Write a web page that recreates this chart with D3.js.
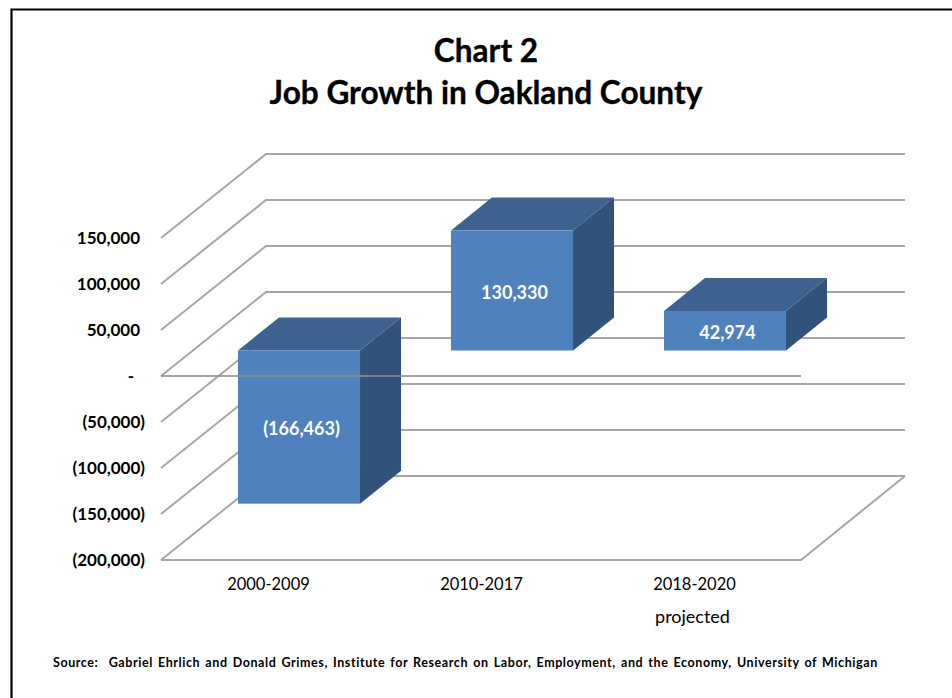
<!DOCTYPE html>
<html>
<head>
<meta charset="utf-8">
<script src="https://cdn.jsdelivr.net/npm/d3@7/dist/d3.min.js"></script>
<style>
  html, body { margin: 0; padding: 0; background: #fff; }
  svg { display: block; }
  text { font-family: Lato, "Open Sans", sans-serif; }
</style>
</head>
<body>
<svg id="chart" width="952" height="698"></svg>
<script>
// Job change by period, in jobs
const periods = ["2000-2009", "2010-2017", "2018-2020"];
const periodNotes = ["", "", "projected"];
const jobChange = [-166463, 130330, 42974];
const barLabels = ["(166,463)", "130,330", "42,974"];
const axisTicks = [-200000, -150000, -100000, -50000, 0, 50000, 100000, 150000];
const titleLines = ["Chart 2", "Job Growth in Oakland County"];
const sourceNote = "Source:  Gabriel Ehrlich and Donald Grimes, Institute for Research on Labor, Employment, and the Economy, University of Michigan";

const svg = d3.select("#chart");

// Front plane of the oblique box and the depth offset of its back wall
const y = d3.scaleLinear().domain([-200000, 150000]).range([560, 238]);
const plane = { left: 161, right: 801 };
const x = d3.scaleBand().domain(periods).range([160.5, 799.5]).paddingInner(0.427).paddingOuter(0.2135);
const depth = { dx: 105, dy: -84 };
const barDepth = { dx: 41, dy: -33 };
const barInset = {
  dx: (depth.dx - barDepth.dx) / 2,
  dy: (depth.dy - barDepth.dy) / 2
};

const formatTick = v => v === 0 ? "-" : v < 0 ? `(${d3.format(",")(-v)})` : d3.format(",")(v);
const gridColor = "#a6a6a6";

// Frame around the chart: open on the right, runs off the page at the bottom
svg.append("path")
  .attr("d", "M11.5 698 V9.5 H952")
  .attr("fill", "none")
  .attr("stroke", "#000")
  .attr("stroke-width", 2.2);

// Title
svg.append("g").selectAll("text").data(titleLines).join("text")
  .attr("x", 486)
  .attr("y", (d, i) => 62 + i * 42)
  .attr("text-anchor", "middle")
  .attr("font-size", 31.6)
  .attr("font-weight", 700)
  .attr("fill", "#000")
  .attr("stroke", "#000")
  .attr("stroke-width", 0.35)
  .text(d => d);

// Side wall and back wall gridlines
const grid = svg.append("g")
  .attr("fill", "none")
  .attr("stroke", gridColor)
  .attr("stroke-width", 2);
grid.selectAll("path").data(axisTicks).join("path")
  .attr("d", v => {
    const y0 = y(v);
    return `M${plane.left} ${y0} L${plane.left + depth.dx} ${y0 + depth.dy} H${plane.right + depth.dx - 1}`;
  });

// Floor: front edge and right edge
const floorY = y(-200000);
grid.append("path")
  .attr("d", `M${plane.left} ${floorY} H${plane.right} L${plane.right + depth.dx - 1} ${floorY + depth.dy}`);

// Oblique bars: back faces first so the front face sits on top
const zeroY = y(0) + barInset.dy;
const bars = svg.append("g").selectAll("g").data(periods).join("g");
bars.each(function (p, i) {
  const g = d3.select(this);
  const left = x(p) + barInset.dx;
  const right = left + x.bandwidth();
  const valueY = y(jobChange[i]) + barInset.dy;
  const top = Math.min(valueY, zeroY);
  const bottom = Math.max(valueY, zeroY);
  const { dx, dy } = barDepth;
  g.append("polygon")
    .attr("points", [[left, top], [left + dx, top + dy], [right + dx, top + dy], [right, top]].join(" "))
    .attr("fill", "#3d628f");
  g.append("polygon")
    .attr("points", [[right, top], [right + dx, top + dy], [right + dx, bottom + dy], [right, bottom]].join(" "))
    .attr("fill", "#325279");
  g.append("rect")
    .attr("x", left).attr("y", top)
    .attr("width", x.bandwidth()).attr("height", bottom - top)
    .attr("fill", "#4f81bd");
  g.append("text")
    .attr("x", (left + right) / 2 + 2.5)
    .attr("y", (top + bottom) / 2 + 8)
    .attr("text-anchor", "middle")
    .attr("font-size", 18)
    .attr("font-weight", 700)
    .attr("fill", "#fff")
    .text(barLabels[i]);
});

// Zero plane's front edge crosses in front of the first bar
svg.append("line")
  .attr("x1", plane.left).attr("x2", plane.right)
  .attr("y1", y(0)).attr("y2", y(0))
  .attr("stroke", "#8c8c8c")
  .attr("stroke-opacity", 0.8)
  .attr("stroke-width", 2);

// Value axis labels: negatives sit a little further right, closing on their parenthesis
svg.append("g").selectAll("text").data(axisTicks).join("text")
  .attr("x", v => v < 0 ? 145 : v === 0 ? 134 : 140)
  .attr("y", v => y(v) + 6)
  .attr("text-anchor", "end")
  .attr("font-size", 17)
  .attr("font-weight", 700)
  .attr("fill", "#000")
  .text(formatTick);

// Category labels
const catCenter = p => x(p) + x.bandwidth() / 2 + 1.5;
svg.append("g").selectAll("text").data(periods).join("text")
  .attr("x", catCenter)
  .attr("y", 590)
  .attr("text-anchor", "middle")
  .attr("font-size", 16.5)
  .attr("fill", "#000")
  .text(d => d);
svg.append("g").selectAll("text").data(periods.filter((p, i) => periodNotes[i])).join("text")
  .attr("x", p => catCenter(p) - 2)
  .attr("y", 623)
  .attr("text-anchor", "middle")
  .attr("font-size", 18)
  .attr("fill", "#000")
  .text(p => periodNotes[periods.indexOf(p)]);

// Source note
svg.append("text")
  .attr("x", 53)
  .attr("y", 667)
  .attr("font-size", 12.5)
  .attr("font-weight", 700)
  .attr("fill", "#000")
  .attr("letter-spacing", 0.58)
  .attr("word-spacing", 1.5)
  .style("white-space", "pre")
  .text(sourceNote);
</script>
</body>
</html>
